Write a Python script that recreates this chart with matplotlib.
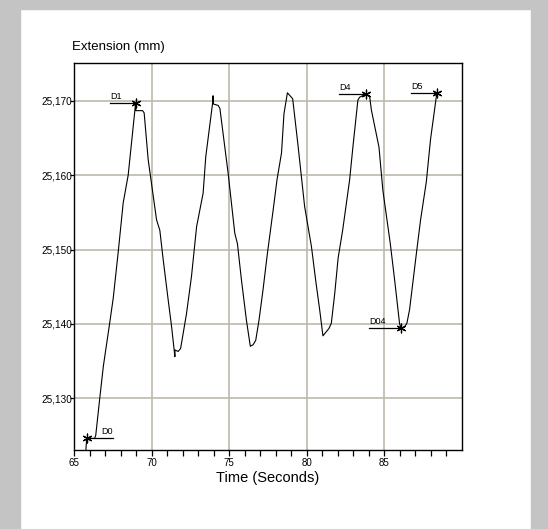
import matplotlib
matplotlib.use("Agg")
import matplotlib.pyplot as plt
from matplotlib.ticker import FixedLocator, FuncFormatter
from matplotlib.patches import Rectangle

plt.rcParams['font.family'] = ['Liberation Sans', 'DejaVu Sans']

# Extension trace (time in seconds, extension in mm)
time_s = [65.75, 65.82, 65.97, 66.33, 66.40, 66.67, 66.89, 67.27, 67.53, 67.85,
          68.17, 68.49, 68.97, 68.99, 69.42, 69.52, 69.78, 70.32, 70.53, 70.75,
          71.07, 71.29, 71.50, 71.51, 71.71, 71.87, 72.25, 72.57, 72.90, 73.32,
          73.49, 73.93, 73.96, 73.97, 74.29, 74.40, 74.93, 75.36, 75.53, 75.79,
          76.11, 76.36, 76.54, 76.71, 76.92, 77.18, 77.45, 77.83, 78.08, 78.37,
          78.53, 78.75, 79.09, 79.43, 79.86, 80.30, 80.57, 80.83, 81.04, 81.43,
          81.58, 81.80, 82.02, 82.31, 82.76, 82.97, 83.29, 83.40, 83.79, 84.05,
          84.16, 84.65, 84.90, 85.38, 85.66, 85.98, 86.09, 86.30, 86.45, 86.62,
          87.05, 87.33, 87.70, 87.97, 88.38]
extension_mm = [25.1225, 25.1247, 25.1246, 25.1246, 25.1250, 25.1302, 25.1343, 25.1397, 25.1435, 25.1497,
                25.1563, 25.1600, 25.1697, 25.1687, 25.1687, 25.1684, 25.1621, 25.1540, 25.1526, 25.1486,
                25.1432, 25.1396, 25.1356, 25.1365, 25.1363, 25.1367, 25.1414, 25.1464, 25.1531, 25.1576,
                25.1625, 25.1697, 25.1707, 25.1696, 25.1694, 25.1690, 25.1603, 25.1522, 25.1508, 25.1459,
                25.1405, 25.1370, 25.1372, 25.1378, 25.1405, 25.1446, 25.1493, 25.1553, 25.1594, 25.1630,
                25.1683, 25.1711, 25.1703, 25.1641, 25.1558, 25.1504, 25.1459, 25.1419, 25.1384, 25.1394,
                25.1401, 25.1441, 25.1489, 25.1526, 25.1594, 25.1638, 25.1701, 25.1705, 25.1709, 25.1706,
                25.1688, 25.1638, 25.1580, 25.1508, 25.1459, 25.1400, 25.1394, 25.1396, 25.1401, 25.1419,
                25.1493, 25.1540, 25.1591, 25.1648, 25.1711]

# Marked points and where their labels start
point_names = ["D0", "D1", "D4", "D04", "D5"]
point_time = [65.82, 68.97, 83.79, 86.09, 88.38]
point_ext = [25.1247, 25.1697, 25.1709, 25.1394, 25.1711]
label_time = [67.53, 67.32, 82.07, 84.00, 86.73]
label_text_time = [66.74, 67.32, 82.07, 84.00, 86.73]

x_major = [65, 70, 75, 80, 85]
x_minor = [66, 67, 68, 69, 71, 72, 73, 74, 76, 77, 78, 79, 81, 82, 83, 84, 86, 87, 88, 89]
y_ticks = [25.130, 25.140, 25.150, 25.160, 25.170]

W, H = 548, 529
fig = plt.figure(figsize=(W / 100, H / 100), dpi=100)
fig.patch.set_facecolor('white')

# grey page border
border = '#c4c4c4'
fig.patches.append(Rectangle((0, 0), 20 / W, 1, transform=fig.transFigure, color=border, zorder=0))
fig.patches.append(Rectangle((531 / W, 0), 17 / W, 1, transform=fig.transFigure, color=border, zorder=0))
fig.patches.append(Rectangle((0, 1 - 9 / H), 1, 9 / H, transform=fig.transFigure, color=border, zorder=0))

ax = fig.add_axes([74 / W, (H - 450) / H, 388 / W, 387 / H])
ax.set_xlim(65, 90)
ax.set_ylim(25.12304, 25.17511)

grid_c = '#bdb9ad'
for xv in x_major[1:]:
    ax.axvline(xv, color=grid_c, lw=1.2, zorder=1)
for yv in y_ticks:
    ax.axhline(yv, color=grid_c, lw=1.2, zorder=1)

ax.plot(time_s, extension_mm, color='black', lw=0.8, zorder=3, clip_on=True)

for name, pt, pe, lt, tt in zip(point_names, point_time, point_ext, label_time, label_text_time):
    ax.plot([lt, pt], [pe, pe], color='black', lw=0.9, zorder=4)
    ax.scatter([pt], [pe], marker=(6, 2, 0), s=40, color='black', linewidths=0.9, zorder=5)
    ax.annotate(name, (tt, pe), xytext=(0, 1.5), textcoords='offset points',
                fontsize=6.5, ha='left', va='bottom', color='black')

ax.xaxis.set_major_locator(FixedLocator(x_major))
ax.xaxis.set_minor_locator(FixedLocator(x_minor))
ax.yaxis.set_major_locator(FixedLocator(y_ticks))
ax.yaxis.set_major_formatter(FuncFormatter(lambda v, p: f"{v:.3f}".replace('.', ',')))
ax.tick_params(axis='x', which='both', direction='out', length=4.5, width=0.9, labelsize=7, pad=1.5)
ax.tick_params(axis='y', which='major', direction='out', length=3, width=0.9, labelsize=7.2, pad=-1.5)

for s in ax.spines.values():
    s.set_linewidth(1.0)
    s.set_color('black')
    s.set_zorder(6)

fig.text(72 / W, 1 - 47 / H, "Extension (mm)", fontsize=9.5, ha='left', va='center')
fig.text(268 / W, 1 - 478 / H, "Time (Seconds)", fontsize=10.5, ha='center', va='center')

fig.savefig('out.png', dpi=100, facecolor='white')
